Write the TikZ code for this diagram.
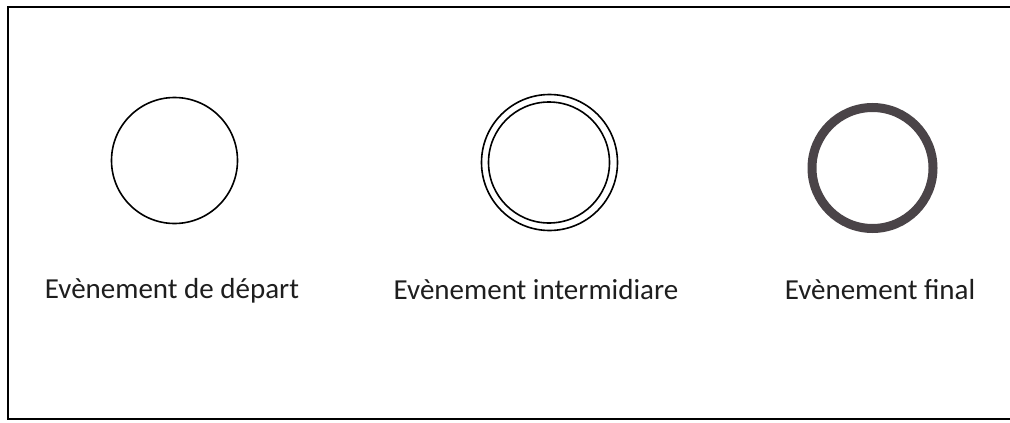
\documentclass[tikz,border=0pt]{standalone}
\usepackage{fontspec}
\setmainfont{Carlito}
\definecolor{finalgray}{HTML}{4A4448}
\definecolor{txt}{HTML}{1E1E1E}
\tikzset{
  lbl/.style={anchor=base, text=txt, font=\fontsize{29}{33}\selectfont, inner sep=0pt},
  thin circ/.style={circle, draw=black, line width=1.6pt, inner sep=0pt},
}
\begin{document}
\begin{tikzpicture}[x=1pt,y=-1pt]
\useasboundingbox (0,0) rectangle (1010,423);
\fill[white] (0,0) rectangle (1010,423);
% frame (open on the right)
\coordinate (ftr) at (1010,6.5);
\coordinate (ftl) at (7.5,6.5);
\coordinate (fbl) at (7.5,419);
\coordinate (fbr) at (1010,419);
\draw[line width=2pt, black] (ftr) -- (ftl) -- (fbl) -- (fbr);
% start event
\node[thin circ, minimum size=126pt] (start) at (174.5,160.5) {};
% intermediate event
\node[thin circ, minimum size=136pt] (inter) at (549.5,162.5) {};
\node[thin circ, minimum size=121pt] (interin) at (549,162.5) {};
% final event
\node[circle, draw=finalgray, line width=9pt, minimum size=121pt, inner sep=0pt] (final) at (872.5,168) {};
% labels
\node[lbl] (l1) at (172,298) {Evènement de départ};
\node[lbl] (l2) at (536,299) {Evènement intermidiare};
\node[lbl] (l3) at (880,299) {Evènement final};
\end{tikzpicture}
\end{document}
